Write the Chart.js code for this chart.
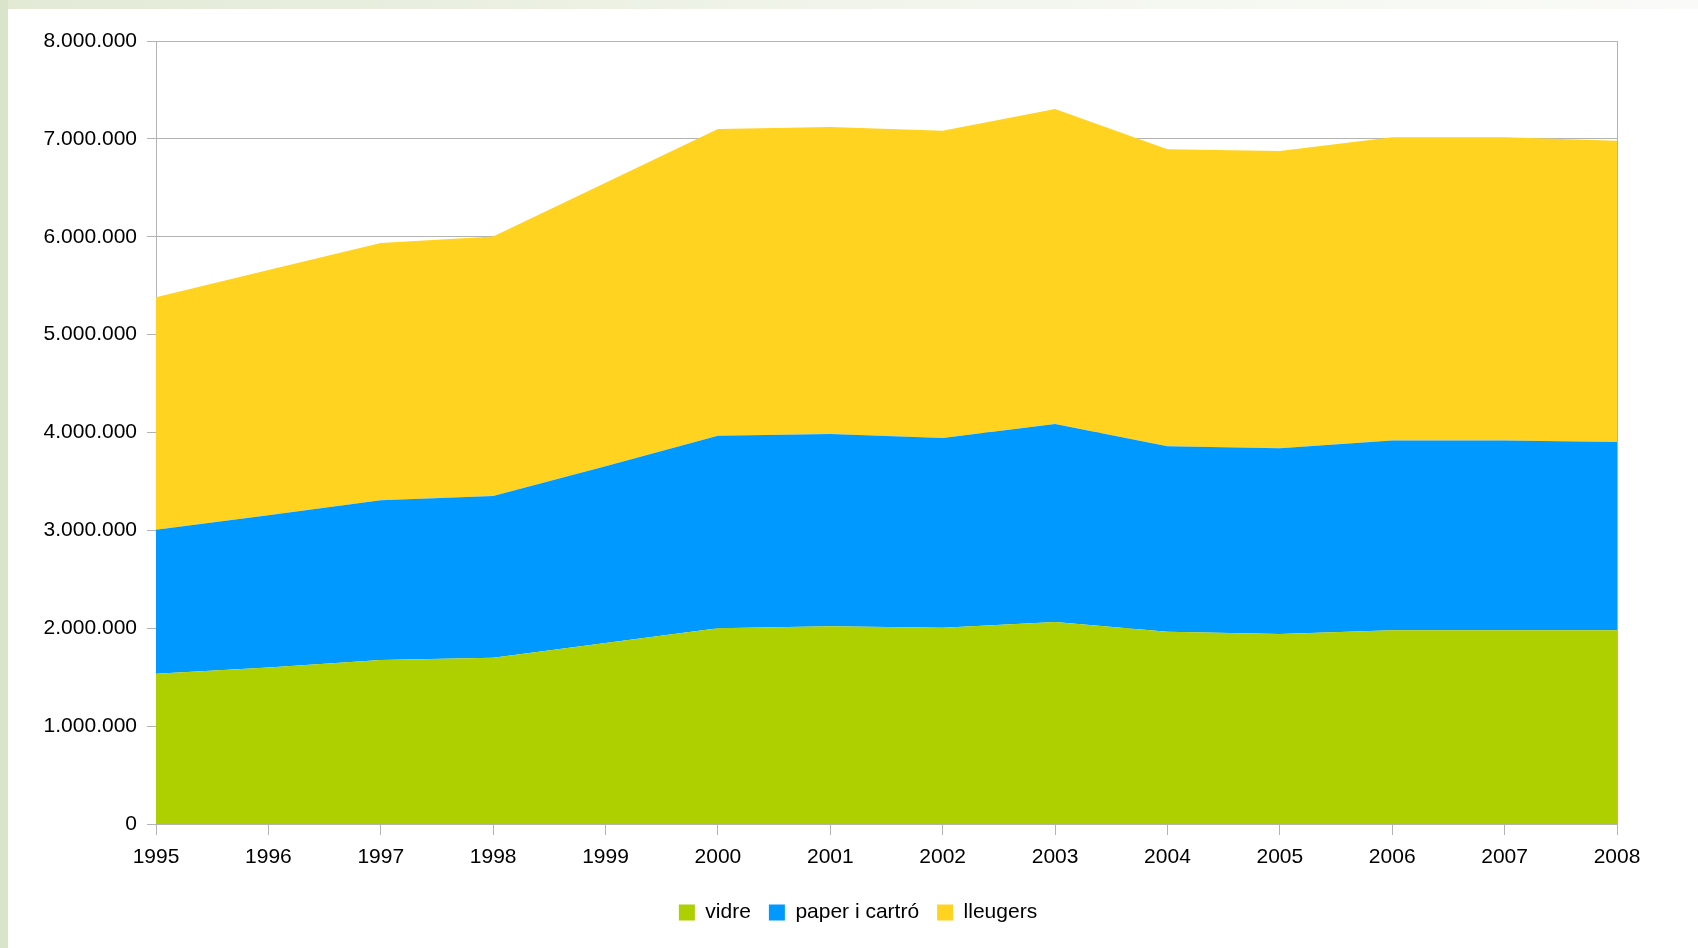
<!DOCTYPE html>
<html>
<head>
<meta charset="utf-8">
<script src="https://cdn.jsdelivr.net/npm/chart.js@4"></script>
<style>
    html, body { margin: 0; padding: 0; background: #ffffff; }
    body { width: 1698px; height: 948px; position: relative; overflow: hidden; }
    #topStrip { position: absolute; left: 0; top: 0; width: 1698px; height: 9px;
        background: linear-gradient(to right, #e2ead6, #f3f6ee 60%, #fafbf8); }
    #leftStrip { position: absolute; left: 0; top: 0; width: 8px; height: 948px; background: #d9e4ca; }
    #wrap { position: absolute; left: 0; top: 0; width: 1698px; height: 948px; }
</style>
</head>
<body>
<div id="topStrip"></div>
<div id="leftStrip"></div>
<div id="wrap"><canvas id="chart"></canvas></div>
<script>
// years on the x axis
const years = ['1995', '1996', '1997', '1998', '1999', '2000', '2001',
               '2002', '2003', '2004', '2005', '2006', '2007', '2008'];

// series values
const vidre = [1534000, 1600000, 1675000, 1698000, 1849000, 2000000, 2020000,
               2004000, 2063000, 1965000, 1941000, 1980000, 1980000, 1980000];
const paper = [1472000, 1555000, 1633000, 1653000, 1806000, 1966000, 1965000,
               1940000, 2024000, 1895000, 1899000, 1939000, 1939000, 1923000];
const lleugers = [2377000, 2505000, 2627000, 2651000, 2896000, 3136000, 3136000,
                  3138000, 3218000, 3034000, 3035000, 3097000, 3097000, 3077000];

const seriesNames = ['vidre', 'paper i cartró', 'lleugers'];
const seriesColors = ['#aecf00', '#0099ff', '#ffd320'];

const gridColor = '#b3b3b3';
const fontFamily = '"Liberation Sans", Arial, sans-serif';

function formatThousands(v) {
    return String(v).replace(/\B(?=(\d{3})+(?!\d))/g, '.');
}

const data = [vidre, paper, lleugers];
const datasets = data.map((values, i) => ({
    label: seriesNames[i],
    data: values,
    backgroundColor: seriesColors[i],
    borderColor: seriesColors[i],
    borderWidth: 0,
    pointRadius: 0,
    tension: 0,
    fill: i === 0 ? 'origin' : '-1'
}));

Chart.defaults.font.family = fontFamily;
Chart.defaults.font.size = 21;
Chart.defaults.color = '#000000';

new Chart(document.getElementById('chart'), {
    type: 'line',
    data: { labels: years, datasets: datasets },
    options: {
        responsive: true,
        maintainAspectRatio: false,
        animation: false,
        layout: {
            padding: { left: 18, right: 0, top: 41, bottom: 15 }
        },
        scales: {
            x: {
                offset: false,
                grid: {
                    drawOnChartArea: false,
                    color: gridColor,
                    tickLength: 11
                },
                border: { color: gridColor },
                ticks: { padding: 10, maxRotation: 0, autoSkip: false },
                afterFit(scale) { scale.height = 60; }
            },
            y: {
                stacked: true,
                min: 0,
                max: 8000000,
                grid: {
                    color: gridColor,
                    tickLength: 9
                },
                border: { color: gridColor },
                ticks: {
                    stepSize: 1000000,
                    padding: 10,
                    callback: (v) => formatThousands(v)
                },
                afterFit(scale) { scale.width = 138; }
            },
            // empty right axis: only its line, closing the plot frame
            yRight: {
                position: 'right',
                display: true,
                min: 0,
                max: 8000000,
                grid: { drawOnChartArea: false, drawTicks: false },
                border: { color: gridColor },
                ticks: { display: false },
                afterFit(scale) { scale.width = 81; }
            }
        },
        plugins: {
            legend: {
                position: 'bottom',
                labels: {
                    boxWidth: 16,
                    boxHeight: 16,
                    padding: 18,
                    font: { size: 21 }
                }
            },
            tooltip: { enabled: false }
        }
    }
});
</script>
</body>
</html>
